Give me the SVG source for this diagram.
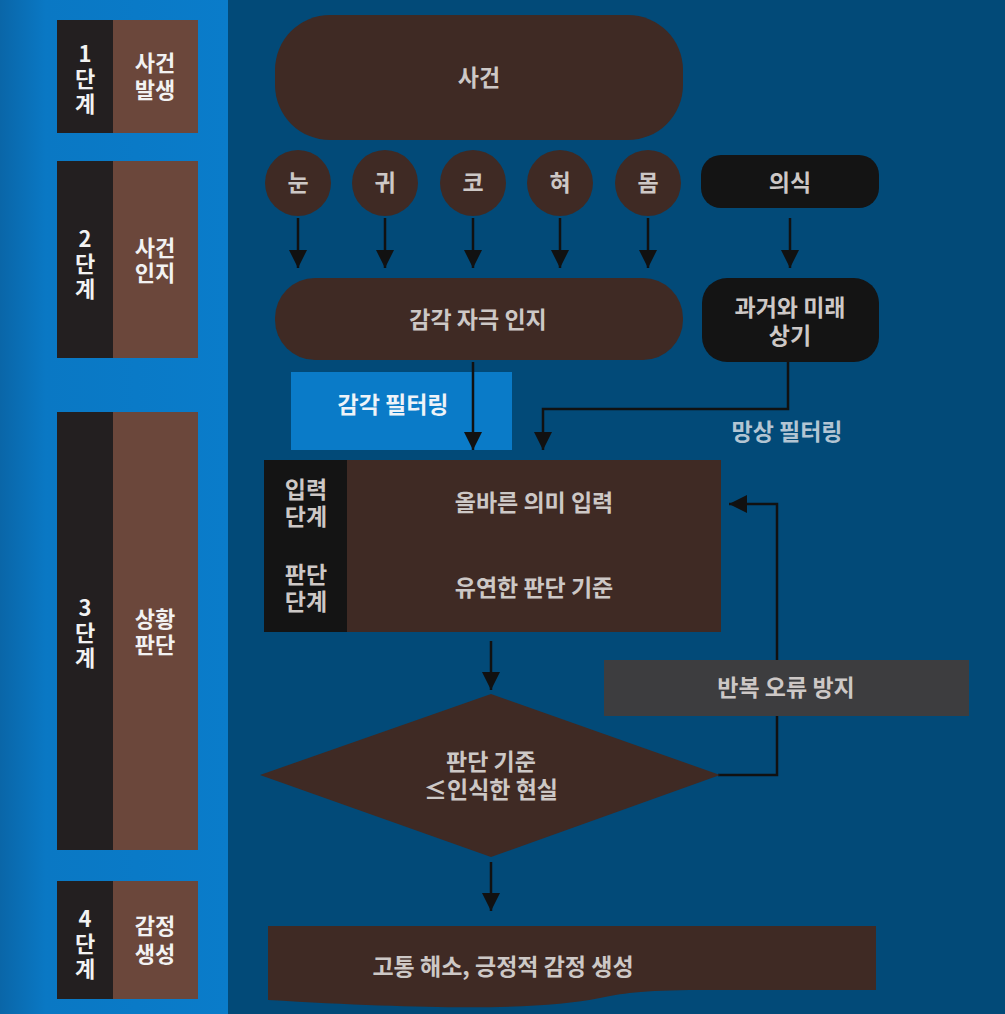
<svg xmlns="http://www.w3.org/2000/svg" width="1005" height="1014" viewBox="0 0 1005 1014">
<defs>
<linearGradient id="leftbg" x1="0" y1="0" x2="1" y2="0">
<stop offset="0" stop-color="#0a66a8"/>
<stop offset="0.2" stop-color="#0a78c4"/>
<stop offset="1" stop-color="#0a7cca"/>
</linearGradient>
<marker id="ah" markerUnits="userSpaceOnUse" markerWidth="18" markerHeight="18" viewBox="0 0 18 18" refX="18" refY="9" orient="auto">
<path d="M0,0 L18,9 L0,18 Z" fill="#111"/>
</marker>
<style>
text{font-family:"Noto Sans CJK KR","Noto Sans",sans-serif;font-weight:700;text-anchor:middle}
.st{font-size:22px;fill:#f2f2f2}
.vt{font-size:22px;fill:#f2f2f2;writing-mode:vertical-rl;text-orientation:upright;letter-spacing:3px}
.lb{font-size:23px;fill:#cdc8c6}
.blk{fill:#231f20}
.brn{fill:#6b473b}
.dk{fill:#3f2a24}
.bl{fill:#141414}
.cn{fill:none;stroke:#111;stroke-width:2.5}
</style>
</defs>
<rect x="0" y="0" width="228" height="1014" fill="url(#leftbg)"/>
<rect x="228" y="0" width="777" height="1014" fill="#024a78"/>

<g id="stage1">
<rect class="blk" x="57" y="20" width="56" height="113"/>
<rect class="brn" x="113" y="20" width="85" height="113"/>
<text class="vt" x="85" y="80">1단계</text>
<text class="st" x="155" y="71">사건<tspan x="155" dy="27">발생</tspan></text>
</g>
<g id="stage2">
<rect class="blk" x="57" y="161" width="56" height="197"/>
<rect class="brn" x="113" y="161" width="85" height="197"/>
<text class="vt" x="85" y="265">2단계</text>
<text class="st" x="155" y="256">사건<tspan x="155" dy="25">인지</tspan></text>
</g>
<g id="stage3">
<rect class="blk" x="57" y="412" width="56" height="438"/>
<rect class="brn" x="113" y="412" width="85" height="438"/>
<text class="vt" x="85" y="634">3단계</text>
<text class="st" x="155" y="627">상황<tspan x="155" dy="26">판단</tspan></text>
</g>
<g id="stage4">
<rect class="blk" x="57" y="881" width="56" height="118"/>
<rect class="brn" x="113" y="881" width="85" height="118"/>
<text class="vt" x="85" y="945">4단계</text>
<text class="st" x="155" y="934">감정<tspan x="155" dy="28">생성</tspan></text>
</g>

<g id="sense-filter">
<rect x="291" y="372" width="221" height="78" fill="#0a7bc8"/>
<text x="393" y="413" style="font-size:23px;fill:#eef3f8">감각 필터링</text>
</g>

<g id="connectors">
<line class="cn" x1="298" y1="218" x2="298" y2="268" marker-end="url(#ah)"/>
<line class="cn" x1="385" y1="218" x2="385" y2="268" marker-end="url(#ah)"/>
<line class="cn" x1="473" y1="218" x2="473" y2="268" marker-end="url(#ah)"/>
<line class="cn" x1="560" y1="218" x2="560" y2="268" marker-end="url(#ah)"/>
<line class="cn" x1="648" y1="218" x2="648" y2="268" marker-end="url(#ah)"/>
<line class="cn" x1="790" y1="218" x2="790" y2="268" marker-end="url(#ah)"/>
<line class="cn" x1="473" y1="362" x2="473" y2="450" marker-end="url(#ah)"/>
<polyline class="cn" points="788,362 788,409 543,409 543,450" marker-end="url(#ah)"/>
<line class="cn" x1="491" y1="641" x2="491" y2="690" marker-end="url(#ah)"/>
<polyline class="cn" points="718,775 777,775 777,504 729,504" marker-end="url(#ah)"/>
<line class="cn" x1="491" y1="862" x2="491" y2="911" marker-end="url(#ah)"/>
</g>

<g id="event">
<rect class="dk" x="275" y="15" width="408" height="125" rx="55"/>
<text class="lb" x="479" y="86">사건</text>
</g>
<g id="eye"><circle class="dk" cx="298" cy="183" r="33"/><text class="lb" x="298" y="191">눈</text></g>
<g id="ear"><circle class="dk" cx="385" cy="183" r="33"/><text class="lb" x="385" y="191">귀</text></g>
<g id="nose"><circle class="dk" cx="473" cy="183" r="33"/><text class="lb" x="473" y="191">코</text></g>
<g id="tongue"><circle class="dk" cx="560" cy="183" r="33"/><text class="lb" x="560" y="191">혀</text></g>
<g id="body"><circle class="dk" cx="648" cy="183" r="33"/><text class="lb" x="648" y="191">몸</text></g>
<g id="consciousness">
<rect class="bl" x="701" y="155" width="178" height="53" rx="20"/>
<text class="lb" x="790" y="191">의식</text>
</g>
<g id="perception">
<rect class="dk" x="275" y="278" width="408" height="82" rx="40"/>
<text class="lb" x="478" y="328">감각 자극 인지</text>
</g>
<g id="recall">
<rect class="bl" x="702" y="278" width="177" height="84" rx="25"/>
<text class="lb" x="790" y="316">과거와 미래<tspan x="790" dy="28">상기</tspan></text>
</g>
<g id="delusion-filter">
<text x="787" y="440" style="font-size:23px;fill:#b3c5d3">망상 필터링</text>
</g>
<g id="judgement-box">
<rect class="bl" x="264" y="460" width="83" height="172"/>
<rect class="dk" x="347" y="460" width="374" height="172"/>
<text class="lb" x="306" y="498">입력<tspan x="306" dy="27">단계</tspan></text>
<text class="lb" x="306" y="583">판단<tspan x="306" dy="27">단계</tspan></text>
<text class="lb" x="534" y="511">올바른 의미 입력</text>
<text class="lb" x="534" y="596">유연한 판단 기준</text>
</g>
<g id="error-prevent">
<rect x="604" y="660" width="365" height="56" fill="#3d3d3f"/>
<text class="lb" x="786" y="696">반복 오류 방지</text>
</g>
<g id="decision">
<polygon class="dk" points="491,694 720,775 491,857 260,775"/>
<text class="lb" x="491" y="770">판단 기준<tspan x="491" dy="28">≤인식한 현실</tspan></text>
</g>
<g id="result">
<path class="dk" d="M268,926 L876,926 L876,990 L700,990 C640,990 620,994 600,998 C540,1010 440,1010 268,1000 Z"/>
<text class="lb" x="503" y="975">고통 해소, 긍정적 감정 생성</text>
</g>
</svg>
